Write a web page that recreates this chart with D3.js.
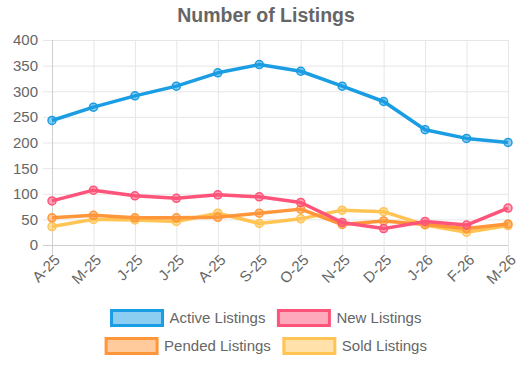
<!DOCTYPE html>
<html>
<head>
<meta charset="utf-8">
<script src="https://cdn.jsdelivr.net/npm/d3@7"></script>
<style>
  body { margin: 0; background: #fff; }
  svg text { font-family: "Liberation Sans", Arial, sans-serif; fill: #666; }
</style>
</head>
<body>
<div id="chart"></div>
<script>
// months on the x axis
var months = ["A-25", "M-25", "J-25", "J-25", "A-25", "S-25", "O-25", "N-25", "D-25", "J-26", "F-26", "M-26"];
var yTicks = [0, 50, 100, 150, 200, 250, 300, 350, 400];

var activeListings = [243, 269, 291, 310, 336, 352, 339, 310, 280, 225, 208, 200];
var newListings    = [86, 107, 96, 91, 98, 94, 83, 44, 32, 46, 39, 72];
var pendedListings = [53, 58, 53, 53, 54, 62, 70, 40, 47, 40, 32, 41];
var soldListings   = [36, 50, 49, 46, 62, 42, 51, 68, 65, 39, 25, 38];

var seriesNames  = ["Active Listings", "New Listings", "Pended Listings", "Sold Listings"];
var seriesColors = ["#1a9de3", "#ff5479", "#ff963a", "#ffc453"];
var seriesValues = [activeListings, newListings, pendedListings, soldListings];

var W = 523, H = 366;
var svg = d3.select('#chart').append('svg')
  .attr('width', W)
  .attr('height', H);

var x = d3.scalePoint().domain(d3.range(months.length)).range([52, 508]);
var y = d3.scaleLinear().domain([0, 400]).range([245, 40]);

// title
svg.append('text')
  .attr('x', 266).attr('y', 22)
  .attr('text-anchor', 'middle')
  .style('font-size', '19.5px')
  .style('font-weight', 'bold')
  .text('Number of Listings');

// grid
var grid = svg.append('g');
grid.selectAll('line.h').data(yTicks).enter().append('line')
  .attr('x1', 43).attr('x2', 508)
  .attr('y1', function(d) { return y(d) + 0.5; })
  .attr('y2', function(d) { return y(d) + 0.5; })
  .attr('stroke', function(d) { return d === 0 ? '#cfcfcf' : '#e6e6e6'; })
  .attr('stroke-width', 1);
grid.selectAll('line.v').data(d3.range(months.length)).enter().append('line')
  .attr('x1', function(i) { return x(i) + 0.5; })
  .attr('x2', function(i) { return x(i) + 0.5; })
  .attr('y1', 40).attr('y2', 254)
  .attr('stroke', function(i) { return i === 0 ? '#cfcfcf' : '#e6e6e6'; })
  .attr('stroke-width', 1);

// y axis labels
svg.append('g').selectAll('text').data(yTicks).enter().append('text')
  .attr('x', 38)
  .attr('y', function(d) { return y(d); })
  .attr('dy', '0.36em')
  .attr('text-anchor', 'end')
  .style('font-size', '15px')
  .text(function(d) { return d; });

// x axis labels, rotated
svg.append('g').selectAll('text').data(months).enter().append('text')
  .attr('transform', function(d, i) { return 'translate(' + (x(i) + 5) + ',257) rotate(-45)'; })
  .attr('dy', '0.36em')
  .attr('text-anchor', 'end')
  .style('font-size', '15px')
  .text(function(d) { return d; });

// lines, first series drawn last so it sits on top
var line = d3.line()
  .x(function(d, i) { return x(i); })
  .y(function(d) { return y(d); });

d3.range(seriesValues.length).reverse().forEach(function(s) {
  var g = svg.append('g');
  var col = seriesColors[s];
  g.append('path')
    .datum(seriesValues[s])
    .attr('d', line)
    .attr('fill', 'none')
    .attr('stroke', col)
    .attr('stroke-width', 3.5)
    .attr('stroke-linejoin', 'round');
  g.selectAll('circle').data(seriesValues[s]).enter().append('circle')
    .attr('cx', function(d, i) { return x(i); })
    .attr('cy', function(d) { return y(d); })
    .attr('r', 4)
    .attr('fill', d3.color(col).copy({opacity: 0.5}))
    .attr('stroke', col)
    .attr('stroke-width', 1.5);
});

// legend, two rows centred
var rows = [[0, 1], [2, 3]];
var rowY = [318, 346];
var boxW = 51, boxH = 15, gap = 6, itemGap = 12;
rows.forEach(function(row, r) {
  var g = svg.append('g');
  var items = row.map(function(s) {
    var t = g.append('text')
      .attr('y', rowY[r])
      .attr('dy', '0.36em')
      .style('font-size', '15px')
      .text(seriesNames[s]);
    return { s: s, t: t, w: t.node().getComputedTextLength() };
  });
  var total = d3.sum(items, function(it) { return boxW + 2 + gap + it.w; }) + itemGap * (items.length - 1);
  var cx = 266 - total / 2;
  items.forEach(function(it) {
    var col = seriesColors[it.s];
    g.append('rect')
      .attr('x', cx + 1).attr('y', rowY[r] - boxH / 2)
      .attr('width', boxW).attr('height', boxH)
      .attr('fill', d3.color(col).copy({opacity: 0.5}))
      .attr('stroke', col)
      .attr('stroke-width', 3);
    it.t.attr('x', cx + boxW + 2 + gap);
    cx += boxW + 2 + gap + it.w + itemGap;
  });
});
</script>
</body>
</html>
